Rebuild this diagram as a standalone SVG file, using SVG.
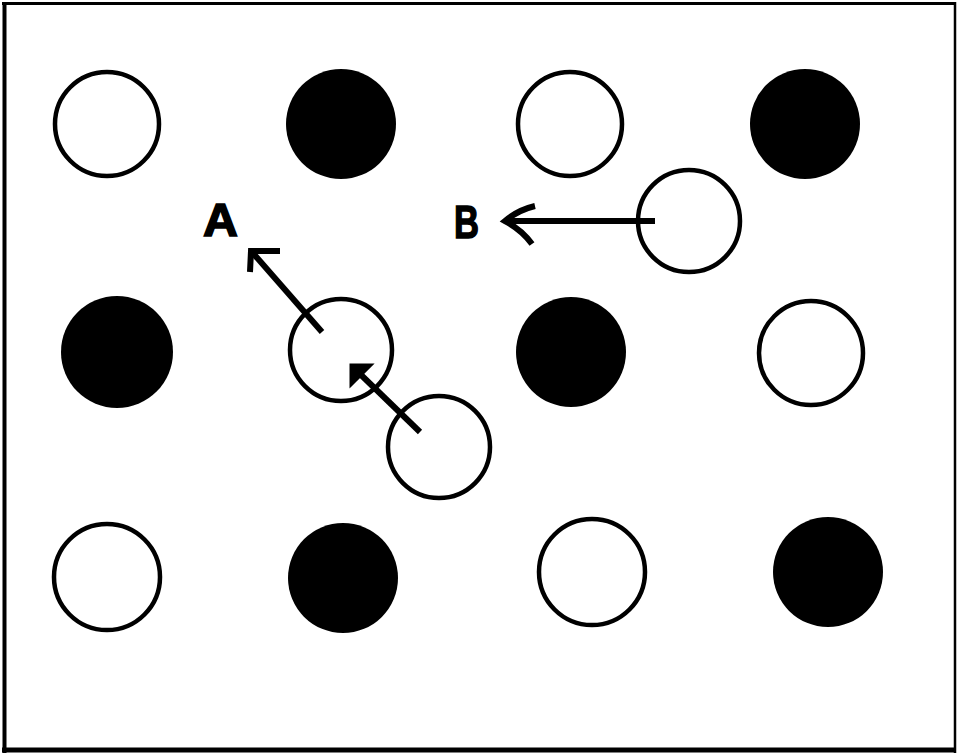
<svg xmlns="http://www.w3.org/2000/svg" width="958" height="755" viewBox="0 0 958 755">
<style>
.open{fill:#fff;stroke:#000;stroke-width:4.5}
.full{fill:#000;stroke:none}
.lbl{font-family:"Liberation Sans",Arial,sans-serif;font-weight:bold;font-size:46px;fill:#000;stroke:#000;stroke-width:1.5}
.conn line,.conn path{stroke:#000;fill:none;stroke-linecap:butt}
.conn path.head{fill:#000}
</style>
<rect x="0" y="0" width="958" height="755" fill="#fff"/>
<g id="frame" fill="none" stroke="#000">
<line x1="4.5" y1="2" x2="4.5" y2="753" stroke-width="4"/>
<line x1="2" y1="3.5" x2="956" y2="3.5" stroke-width="3"/>
<line x1="955" y1="2" x2="955" y2="753" stroke-width="2.5"/>
<line x1="2" y1="750" x2="956" y2="750" stroke-width="5"/>
</g>
<g id="n_r1c1"><circle class="open" cx="107" cy="124" r="52"/></g>
<g id="n_r1c2"><circle class="full" cx="341" cy="124" r="55"/></g>
<g id="n_r1c3"><circle class="open" cx="570" cy="124" r="52"/></g>
<g id="n_r1c4"><circle class="full" cx="805" cy="124" r="55"/></g>
<g id="n_hopB"><circle class="open" cx="689" cy="221" r="51"/></g>
<g id="n_r2c1"><circle class="full" cx="117" cy="352" r="56"/></g>
<g id="n_r2c2"><circle class="open" cx="341" cy="350" r="51"/></g>
<g id="n_r2c3"><circle class="full" cx="571" cy="352" r="55"/></g>
<g id="n_r2c4"><circle class="open" cx="811" cy="353" r="52"/></g>
<g id="n_hopA"><circle class="open" cx="439" cy="447" r="51"/></g>
<g id="n_r3c1"><circle class="open" cx="107" cy="577" r="53"/></g>
<g id="n_r3c2"><circle class="full" cx="343" cy="578" r="55"/></g>
<g id="n_r3c3"><circle class="open" cx="592" cy="572" r="53"/></g>
<g id="n_r3c4"><circle class="full" cx="828" cy="572" r="55"/></g>
<g id="labels">
<text class="lbl" x="203" y="236" textLength="35" lengthAdjust="spacingAndGlyphs">A</text>
<text class="lbl" x="454" y="238" textLength="25" lengthAdjust="spacingAndGlyphs">B</text>
</g>
<g id="connectors" class="conn">
<line x1="322" y1="332" x2="252" y2="252" stroke-width="6"/>
<path d="M280 251 L251 251 L250 272" stroke-width="6"/>
<line x1="420" y1="432" x2="358" y2="372" stroke-width="6"/>
<path class="head" d="M351 365 L371 365 L351 385 Z" stroke-width="3"/>
<line x1="655" y1="221" x2="508" y2="221" stroke-width="6"/>
<path d="M535 206 Q518 210 505 221 Q522 230 532 244" stroke-width="6"/>
</g>
</svg>
